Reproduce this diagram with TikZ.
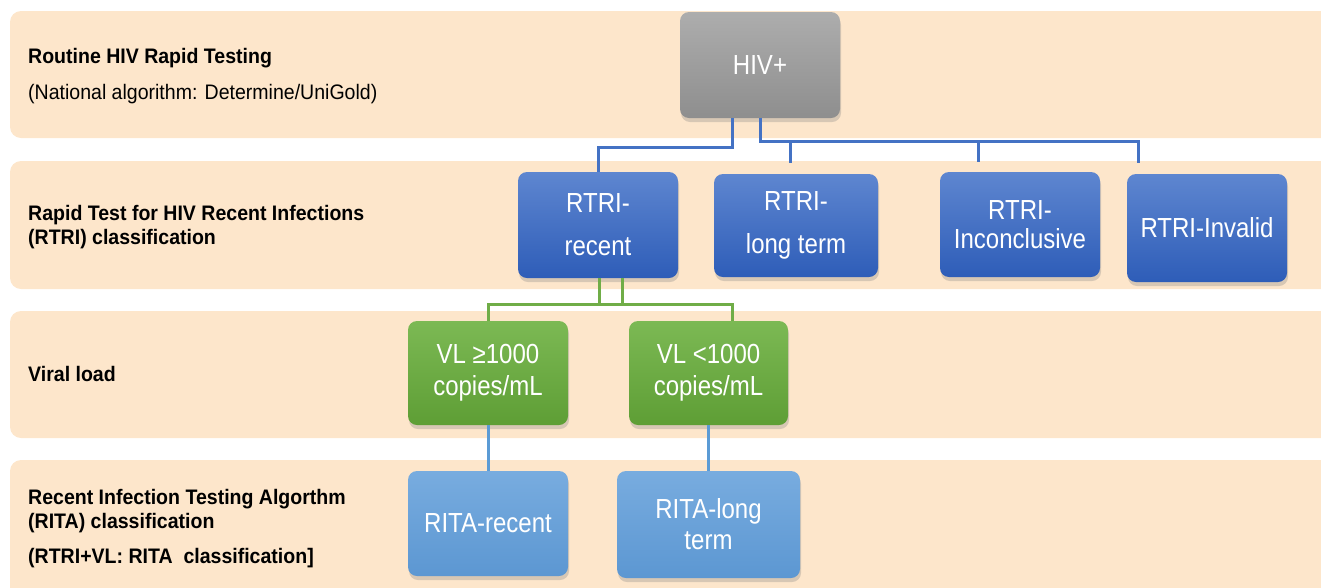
\documentclass[tikz,border=0pt]{standalone}
\usepackage{fontspec}
\setmainfont{Liberation Sans}
\newfontfamily\boxfont{Liberation Sans}[FakeStretch=0.87]
\newfontfamily\lblfont{Liberation Sans}[FakeStretch=0.93]
\usetikzlibrary{shadows}
\definecolor{bandc}{HTML}{FDE6CB}
\definecolor{graytop}{HTML}{ADADAD}
\definecolor{graybot}{HTML}{8E8E8E}
\definecolor{bluetop}{HTML}{5E86D0}
\definecolor{bluebot}{HTML}{2E5DB8}
\definecolor{greentop}{HTML}{7CB954}
\definecolor{greenbot}{HTML}{5E9E35}
\definecolor{ltop}{HTML}{78ACDF}
\definecolor{lbot}{HTML}{5C97D2}
\definecolor{lineblue}{HTML}{4472C4}
\definecolor{linegreen}{HTML}{70AD47}
\definecolor{linelight}{HTML}{5B9BD5}
\begin{document}
\begin{tikzpicture}[x=1pt,y=-1pt,
  bandstyle/.style={fill=bandc, rounded corners=11pt},
  box/.style={rounded corners=9pt, minimum width=160pt, minimum height=106pt,
    text=white, align=center, inner sep=0pt,
    drop shadow={opacity=0.3, shadow xshift=1pt, shadow yshift=-4pt}},
  graybox/.style={box, top color=graytop, bottom color=graybot},
  bluebox/.style={box, top color=bluetop, bottom color=bluebot},
  greenbox/.style={box, top color=greentop, bottom color=greenbot},
  ltbox/.style={box, top color=ltop, bottom color=lbot},
  lbl/.style={anchor=base west, inner sep=0pt, font=\lblfont\fontsize{21}{23}\selectfont},
  blbl/.style={lbl, font=\lblfont\fontsize{21}{23}\selectfont\bfseries},
  conn/.style={line width=3pt},
]
\useasboundingbox (0,0) rectangle (1321,587);
\begin{scope}
\clip (0,0) rectangle (1321,587);
\fill[bandstyle] (10,11) rectangle (1345,138);
\fill[bandstyle] (10,161) rectangle (1345,289);
\fill[bandstyle] (10,311) rectangle (1345,438);
\fill[bandstyle] (10,460) rectangle (1345,610);
\end{scope}

% left labels
\node[blbl] (l1a) at (28,63) {Routine HIV Rapid Testing};
\node[lbl]  (l1b) at (28,99) {(National algorithm: Determine/UniGold)};
\node[blbl] (l2a) at (28,220) {Rapid Test for HIV Recent Infections};
\node[blbl] (l2b) at (28,244) {(RTRI) classification};
\node[blbl] (l3a) at (28,381) {Viral load};
\node[blbl] (l4a) at (28,504) {Recent Infection Testing Algorthm};
\node[blbl] (l4b) at (28,528) {(RITA) classification};
\node[blbl] (l4c) at (28,563) {(RTRI+VL: RITA\ \ classification]};

\coordinate (d1) at (790,163);
\coordinate (d2) at (978,162);
\coordinate (d3) at (1138,163);

% boxes
\node[graybox, font=\boxfont\fontsize{27.6}{30}\selectfont] (hiv) at (760,65) {HIV+};
\node[bluebox, font=\boxfont\fontsize{27.6}{43}\selectfont] (rr) at (598,225) {RTRI-\\recent};
\node[bluebox, minimum width=164pt, minimum height=103pt, font=\boxfont\fontsize{27.6}{43}\selectfont] (rl) at (796,225.5) {RTRI-\\long term};
\node[bluebox, minimum height=105pt, font=\boxfont\fontsize{27.6}{29}\selectfont] (ri) at (1020,224.5) {RTRI-\\Inconclusive};
\node[bluebox, minimum height=108pt, font=\boxfont\fontsize{27.6}{30}\selectfont] (rv) at (1207,228) {RTRI-Invalid};
\node[greenbox, minimum height=104pt, font=\boxfont\fontsize{27.6}{32}\selectfont] (vh) at (488,373) {VL ≥1000\\copies/mL};
\node[greenbox, minimum height=104pt, minimum width=159pt, font=\boxfont\fontsize{27.6}{32}\selectfont] (vl) at (708.5,373) {VL <1000\\copies/mL};
\node[ltbox, minimum height=105pt, font=\boxfont\fontsize{27.6}{30}\selectfont] (ar) at (488,523.5) {RITA-recent};
\node[ltbox, minimum height=107pt, minimum width=183pt, font=\boxfont\fontsize{27.6}{31}\selectfont] (al) at (708.5,524.5) {RITA-long\\term};

% connectors
\draw[conn, lineblue] (hiv.south -| 732,0) -- (732,147) -| (rr.north);
\draw[conn, lineblue] (hiv.south -| 760,0) -- (760,141) -| (d3);
\draw[conn, lineblue] (d1 |- 0,141) -- (d1);
\draw[conn, lineblue] (d2 |- 0,141) -- (d2);
\draw[conn, linegreen] (rr.south -| 599,0) -- (599,304);
\draw[conn, linegreen] (rr.south -| 622,0) -- (622,304);
\draw[conn, linegreen] (vh.north) |- (622,304) -| (vl.north -| 732,0);
\draw[conn, linelight] (vh.south) -- (ar.north);
\draw[conn, linelight] (vl.south) -- (al.north);
\end{tikzpicture}
\end{document}
